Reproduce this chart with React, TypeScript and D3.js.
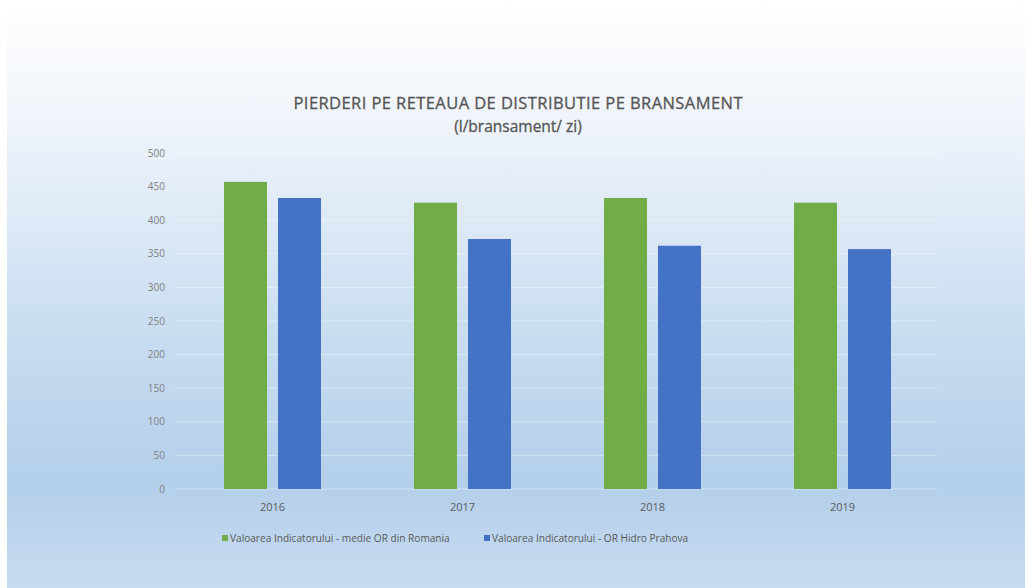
import React from "react";
import * as d3 from "d3";

const categories = ["2016", "2017", "2018", "2019"];
const seriesNames = [
  "Valoarea Indicatorului - medie OR din Romania",
  "Valoarea Indicatorului - OR Hidro Prahova",
];
const romaniaValues = [457, 426, 433, 426];
const prahovaValues = [433, 372, 362, 357];
const yTicks = [0, 50, 100, 150, 200, 250, 300, 350, 400, 450, 500];
const seriesColors = ["#70ad47", "#4472c4"];

const W = 1025;
const H = 588;
const FONT = "'Open Sans', 'Noto Sans', sans-serif";

export default function App() {
  const x0 = d3.scaleBand<string>().domain(categories).range([177.5, 937.5]).paddingInner(0.4895).paddingOuter(0.2447);
  const x1 = d3.scaleBand<number>().domain([0, 1]).range([0, x0.bandwidth()]).paddingInner(0.2037).paddingOuter(0);
  const y = d3.scaleLinear().domain([0, 500]).range([489, 153]);
  const data = [romaniaValues, prahovaValues];

  return (
    <svg width={W} height={H} style={{ position: "absolute", left: 0, top: 0, display: "block" }}>
      <defs>
        <linearGradient id="bg" x1="0" y1="0" x2="0" y2="1">
          <stop offset="0%" stopColor="#ffffff" />
          <stop offset="22%" stopColor="#eef3fa" />
          <stop offset="55%" stopColor="#cadef1" />
          <stop offset="82%" stopColor="#b4cfea" />
          <stop offset="100%" stopColor="#c6dbf0" />
        </linearGradient>
      </defs>
      <rect x={0} y={0} width={W} height={H} fill="#ffffff" />
      <rect x={7} y={0} width={W - 7} height={H} fill="url(#bg)" />

      <text x={518} y={109} textAnchor="middle" fontFamily={FONT} fontSize={16.5} fill="#555555"
        stroke="#555555" strokeWidth={0.3} textLength={449} lengthAdjust="spacing">
        PIERDERI PE RETEAUA DE DISTRIBUTIE PE BRANSAMENT
      </text>
      <text x={518} y={132} textAnchor="middle" fontFamily={FONT} fontSize={15.5} fill="#555555"
        stroke="#555555" strokeWidth={0.3}>
        (l/bransament/ zi)
      </text>

      {yTicks.map((t) => (
        <g key={t}>
          <line x1={175} x2={937} y1={y(t)} y2={y(t)} stroke="#ffffff" strokeOpacity={0.4} strokeWidth={1} />
          <text x={165} y={y(t)} dy="0.35em" textAnchor="end" fontFamily={FONT} fontSize={10} fill="#7f7f7f">
            {t}
          </text>
        </g>
      ))}

      {categories.map((c, i) => (
        <g key={c} transform={`translate(${x0(c)},0)`}>
          {data.map((vals, s) => (
            <rect
              key={s}
              x={x1(s)}
              y={y(vals[i])}
              width={x1.bandwidth()}
              height={y(0) - y(vals[i])}
              fill={seriesColors[s]}
            />
          ))}
          <text x={x0.bandwidth() / 2} y={511} textAnchor="middle" fontFamily={FONT} fontSize={11} fill="#595959">
            {c}
          </text>
        </g>
      ))}

      {seriesNames.map((n, s) => {
        const lx = s === 0 ? 222 : 484;
        return (
          <g key={n}>
            <rect x={lx} y={535} width={6} height={6} fill={seriesColors[s]} />
            <text x={lx + 8} y={538} dy="0.35em" fontFamily={FONT} fontSize={10.1} fill="#595959">
              {n}
            </text>
          </g>
        );
      })}
    </svg>
  );
}
